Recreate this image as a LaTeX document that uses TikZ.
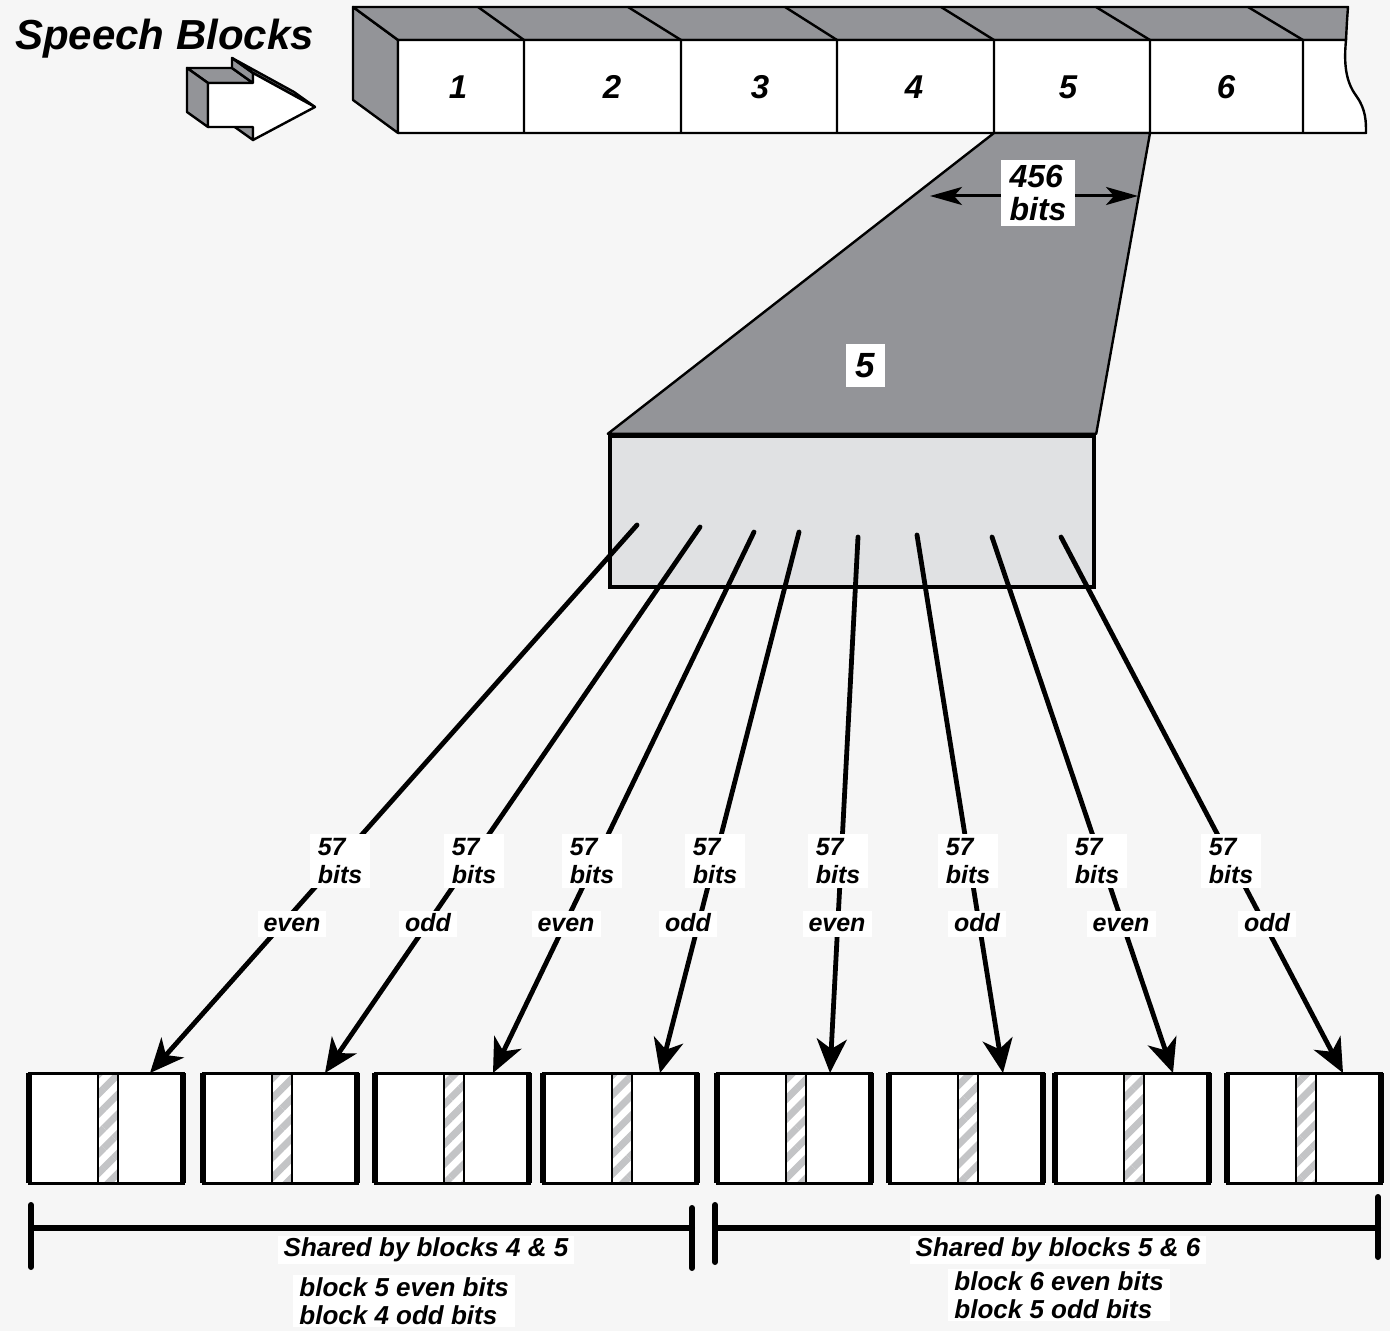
\documentclass[tikz,border=0pt]{standalone}
\usepackage{fontspec}
\setmainfont{Liberation Sans}
\usetikzlibrary{arrows.meta, calc, patterns.meta}
\definecolor{bggray}{RGB}{246,246,246}
\definecolor{facegray}{RGB}{147,148,152}
\definecolor{blockgray}{RGB}{224,225,227}
\definecolor{hatchgray}{RGB}{195,196,198}

\begin{document}
\begin{tikzpicture}[
    x=0.5pt, y=-0.5pt,
    stripface/.style={fill=facegray, draw=black, line width=1.2pt, line join=round},
    stripfront/.style={fill=white, draw=black, line width=1.2pt, line join=round},
    cellnum/.style={font=\bfseries\itshape\fontsize{16.5}{18}\selectfont},
    bitlbl/.style={fill=white, align=left, inner xsep=4pt, inner ysep=2pt, font=\bfseries\itshape\fontsize{12.5}{14}\selectfont},
    parlbl/.style={fill=white, inner xsep=3pt, inner ysep=1pt, text height=9pt, text depth=2pt, font=\bfseries\itshape\fontsize{12.5}{14}\selectfont},
    fan/.style={-{Stealth[length=17pt, width=15pt, inset=5pt]}, line width=2.4pt, line cap=round},
    note/.style={fill=white, align=left, inner xsep=3pt, inner ysep=1pt, font=\bfseries\itshape\fontsize{13}{14}\selectfont},
    brk/.style={line width=3pt, line cap=round}
]
    \useasboundingbox (0,0) rectangle (1390,1331);
    \fill[bggray] (0,0) rectangle (1390,1331);

    % Title and 3D arrow
    \node[anchor=base west, font=\bfseries\itshape\fontsize{21}{24}\selectfont] (title) at (8,50) {Speech Blocks};
    \coordinate (A) at (208,83);
    \coordinate (B) at (253,83);
    \coordinate (C) at (253,73);
    \coordinate (D) at (315,107);
    \coordinate (E) at (253,140);
    \coordinate (F) at (253,127);
    \coordinate (G) at (208,127);
    \foreach \a/\b in {A/B,B/C,C/D,E/F,G/A}
        \filldraw[stripface] (\a) -- (\b) -- ($(\b)+(-21,-15)$) -- ($(\a)+(-21,-15)$) -- cycle;
    \filldraw[stripfront] (A) -- (B) -- (C) -- (D) -- (E) -- (F) -- (G) -- cycle;

    % Strip of speech blocks
    \filldraw[stripface] (398,40) -- (353,7) -- (353,100) -- (398,133) -- cycle;
    \filldraw[stripface] (398,40) -- (353,7) -- (1348,7) .. controls (1347,20) .. (1346,40) -- cycle;
    \filldraw[stripfront] (398,40) -- (1346,40) .. controls (1343,70) and (1348,85) .. (1357,97)
        .. controls (1366,110) and (1366,122) .. (1366,133) -- (398,133) -- cycle;
    \foreach \fx/\bx in {524/478, 681/628, 837/785, 994/941, 1150/1096, 1303/1248}
        \draw[line width=1.2pt] (\fx,133) -- (\fx,40) -- (\bx,7);
    \foreach \i/\nx in {1/458, 2/612, 3/760, 4/914, 5/1068, 6/1226}
        \node[cellnum] (c\i) at (\nx,87) {\i};

    % Block 5 blown up
    \coordinate (c5l) at (994,133);
    \coordinate (c5r) at (1150,133);
    \node[draw, fill=blockgray, line width=2.2pt, minimum width=242pt, minimum height=75.5pt, inner sep=0] (blk) at (852,511.5) {};
    \filldraw[fill=facegray, draw=black, line width=1.2pt, line join=round] (c5l) -- (blk.north west) -- (blk.north east) -- (c5r) -- cycle;
    \node[draw, line width=2.2pt, minimum width=242pt, minimum height=75.5pt, inner sep=0] at (blk) {};
    \coordinate (wl) at (930,196);
    \coordinate (wr) at (1138,196);
    \draw[{Stealth[length=16pt, width=9pt, inset=4pt]}-{Stealth[length=16pt, width=9pt, inset=4pt]}, line width=1.5pt] (wl) -- (wr);
    \node[fill=white, align=left, inner xsep=4.5pt, inner ysep=2.5pt, font=\bfseries\itshape\fontsize{16}{16.5}\selectfont] (w456) at (1038,193) {456\\bits};
    \node[fill=white, minimum width=19.5pt, minimum height=21.5pt, inner sep=0, font=\bfseries\itshape\fontsize{17.5}{20}\selectfont] (z5) at (865,366) {5};

    % Interleaved bursts
    \foreach \i/\bx in {1/29, 2/203, 3/375, 4/543, 5/717, 6/889, 7/1055, 8/1227} {
        \fill[white] (\bx,1073) rectangle ++(154,110);
        \fill[pattern={Lines[angle=45, distance=7pt, line width=3.5pt]}, pattern color=hatchgray] (\bx+69,1073) rectangle (\bx+89,1183);
        \draw[line width=1.2pt] (\bx+69,1073) -- (\bx+69,1183) (\bx+89,1073) -- (\bx+89,1183);
        \draw[line width=1.5pt] (\bx,1073) rectangle ++(154,110);
        \draw[line width=2.6pt] (\bx,1073) -- (\bx,1183) (\bx+154,1073) -- (\bx+154,1183);
    }

    % Arrows
    \foreach \i/\sx/\sy/\tx in {1/637/525/150, 2/700/527/325, 3/754/532/493, 4/799/532/660,
                               5/858/537/830, 6/917/535/1003, 7/992/537/1173, 8/1061/537/1343} {
        \coordinate (s\i) at (\sx,\sy);
        \coordinate (t\i) at (\tx,1073);
        \draw[fan] (s\i) -- (t\i);
    }

    % Labels
    \foreach \i/\lx/\kx/\kind in {1/340/292/even, 2/474/428/odd, 3/592/566/even, 4/715/688/odd,
                                 5/838/837/even, 6/968/977/odd, 7/1097/1121/even, 8/1231/1267/odd} {
        \node[bitlbl] (q\i) at (\lx,861) {57\\bits};
        \node[parlbl] (p\i) at (\kx,924) {\kind};
    }

    % Brackets
    \draw[brk] (31,1205) -- (31,1267) (31,1228) -- (692,1228) (692,1208) -- (692,1268);
    \draw[brk] (715,1205) -- (715,1262) (715,1228) -- (1378,1228) (1378,1197) -- (1378,1257);
    \node[note] (sh45) at (426,1250) {Shared by blocks 4 \& 5};
    \node[note, anchor=north west] (b45) at (293,1275) {block 5 even bits\\block 4 odd bits};
    \node[note] (sh56) at (1058,1250) {Shared by blocks 5 \& 6};
    \node[note, anchor=north west] (b56) at (948,1269) {block 6 even bits\\block 5 odd bits};
\end{tikzpicture}
\end{document}
